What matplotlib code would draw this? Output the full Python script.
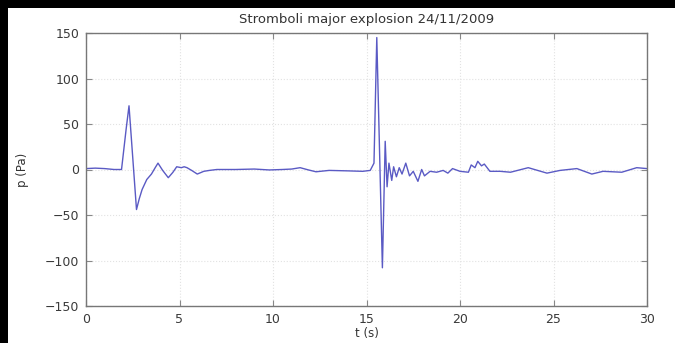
import matplotlib
matplotlib.use("Agg")
import matplotlib.pyplot as plt
from matplotlib.patches import Rectangle

title = "Stromboli major explosion 24/11/2009"
xlabel = "t (s)"
ylabel = "p (Pa)"
xticks = [0, 5, 10, 15, 20, 25, 30]
yticks = [-150, -100, -50, 0, 50, 100, 150]

t = [0, 0.5, 1.0, 1.5, 1.9, 2.15, 2.3, 2.7, 2.85, 3.0, 3.25, 3.5, 3.7, 3.85,
     4.1, 4.4, 4.65, 4.85, 5.1, 5.25, 5.4, 5.65, 5.95, 6.3, 6.6, 7.0, 8.0,
     9.0, 9.8, 10.5, 11.0, 11.45, 11.9, 12.3, 13.0, 14.0, 14.8, 15.2, 15.4,
     15.55, 15.85, 16.0, 16.1, 16.2, 16.35, 16.45, 16.6, 16.75, 16.9, 17.1,
     17.3, 17.5, 17.75, 17.95, 18.1, 18.4, 18.75, 19.1, 19.35, 19.6, 20.0,
     20.45, 20.6, 20.8, 20.95, 21.15, 21.3, 21.6, 22.15, 22.7, 23.65, 24.65,
     25.35, 26.25, 27.05, 27.65, 28.65, 29.45, 30.0]
p = [1, 1.5, 1, 0, 0, 45, 70, -44, -32, -22, -11, -5, 2, 7,
     -1, -9, -3, 3, 2, 3, 2, -1, -5, -2, -1, 0, 0,
     0.5, -0.5, 0, 0.5, 2, -0.5, -2.5, -1, -1.5, -2, -1, 7,
     145, -108, 31, -19, 7, -12, 3, -8, 2, -5, 7,
     -7, -2, -13, 0, -7, -2, -3, -1, -4, 1, -2,
     -3, 5, 2, 9, 4, 6, -2, -2, -3, 2, -4,
     -1, 1, -5, -2, -3, 2, 1]

plt.rcParams['font.family'] = ['DejaVu Sans']
fig = plt.figure(figsize=(6.75, 3.43), dpi=100, facecolor='white')
ax = fig.add_axes([86/675, 1-306/343, (647-86)/675, (306-33)/343])

ax.plot(t, p, color='#5a5ac4', lw=1.0)
ax.set_xlim(0, 30)
ax.set_ylim(-150, 150)
ax.set_xticks(xticks)
ax.set_yticks(yticks)
ax.set_xticklabels([str(v) for v in xticks])
ax.set_yticklabels([str(v).replace('-', '\u2212') for v in yticks])
ax.grid(True, color='#e2e2e2', linestyle=':', lw=0.8)
for s in ax.spines.values():
    s.set_color('#777777')
    s.set_linewidth(1.0)
ax.tick_params(direction='in', length=4, width=0.8, color='#888888',
               labelsize=9, labelcolor='#3a3a3a', top=True, right=True,
               labeltop=False, labelright=False)
ax.tick_params(axis='x', pad=5)
ax.tick_params(axis='y', pad=5)
ax.set_title(title, fontsize=9.5, color='#333333', pad=7)
ax.set_xlabel(xlabel, fontsize=8.5, color='#333333', labelpad=1)
ax.set_ylabel(ylabel, fontsize=8.5, color='#333333', labelpad=11)

fig.patches.append(Rectangle((0, 1-8/343), 1, 8/343, transform=fig.transFigure,
                             facecolor='black', edgecolor='none', zorder=10))
fig.patches.append(Rectangle((0, 0), 8/675, 1, transform=fig.transFigure,
                             facecolor='black', edgecolor='none', zorder=10))

fig.savefig('out.png', dpi=100, facecolor='white')
